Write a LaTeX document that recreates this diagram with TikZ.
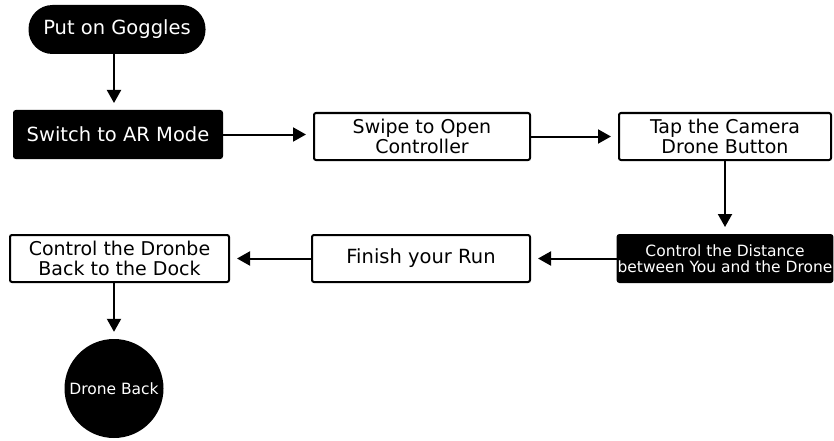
\documentclass[tikz,border=0pt]{standalone}
\usepackage{fontspec}
\setmainfont{DejaVu Sans}
\usetikzlibrary{arrows.meta}
\begin{document}
\begin{tikzpicture}[x=1pt,y=-1pt,
  box/.style={draw=black, line width=2pt, rounded corners=2pt, fill=white, inner sep=0pt, align=center, font=\fontsize{19}{20}\selectfont},
  darkbox/.style={box, fill=black, text=white},
  flow/.style={line width=2pt, -{Triangle[width=14pt,length=13pt]}, shorten >=7pt}]
\useasboundingbox (0,0) rectangle (834,441);
\node[fill=black, text=white, rounded corners=24pt, minimum width=177pt, minimum height=49pt, inner sep=0pt, font=\fontsize{19.5}{20}\selectfont] (goggles) at (117,29.5) {Put on Goggles};
\node[darkbox, minimum width=208pt, minimum height=47pt, font=\fontsize{19.5}{20}\selectfont] (switch) at (118,134.5) {Switch to AR Mode};
\node[box, minimum width=216pt, minimum height=47pt] (swipe) at (422,136.5) {Swipe to Open\\Controller};
\node[box, minimum width=212pt, minimum height=47pt] (tap) at (725,136.5) {Tap the Camera\\Drone Button};
\node[darkbox, minimum width=212pt, minimum height=47pt, font=\fontsize{15.5}{16}\selectfont] (dist) at (725,258.5) {Control the Distance\\between You and the Drone};
\node[box, minimum width=218pt, minimum height=47pt, font=\fontsize{19.5}{20}\selectfont] (finish) at (421,258.5) {Finish your Run};
\node[box, minimum width=219pt, minimum height=47pt] (dock) at (119.5,258.5) {Control the Dronbe\\Back to the Dock};
\node[circle, fill=black, text=white, minimum size=99pt, inner sep=0pt, font=\fontsize{15.5}{17}\selectfont] (back) at (114,388.5) {Drone Back};
\draw[flow] (goggles.south -| 114,0) -- (switch.north -| 114,0);
\draw[flow] (switch.east) -- (switch.east -| swipe.west);
\draw[flow] (swipe) -- (tap);
\draw[flow] (tap) -- (dist);
\draw[flow] (dist) -- (finish);
\draw[flow] (finish) -- (dock);
\draw[flow] (dock.south -| back) -- (back);
\end{tikzpicture}
\end{document}
